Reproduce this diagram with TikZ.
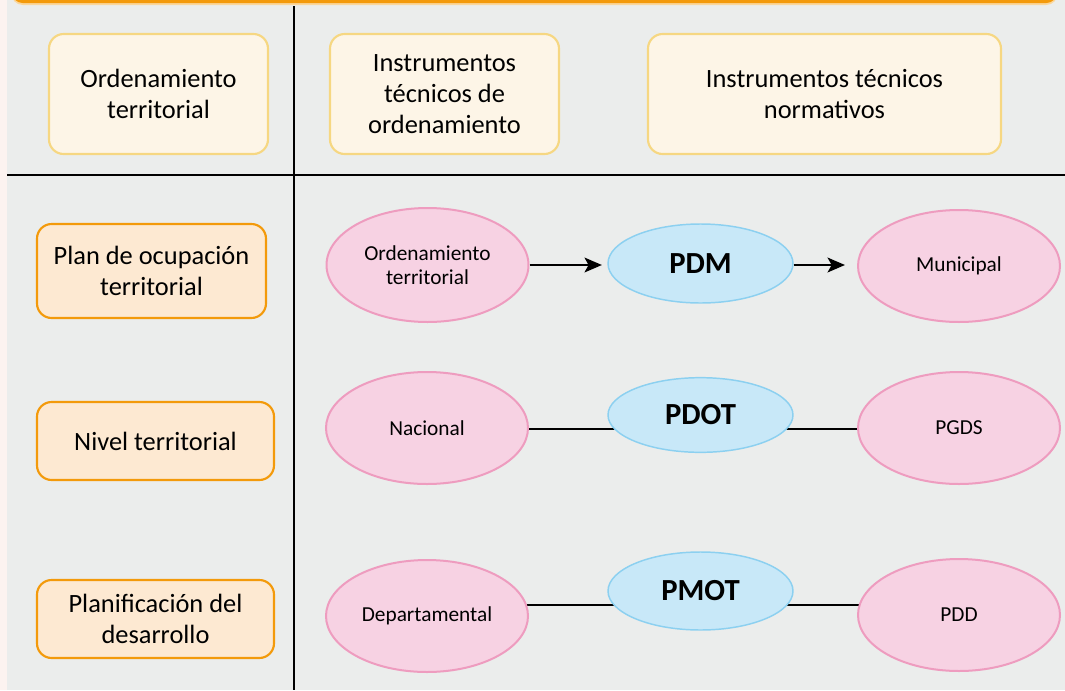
\documentclass[tikz,border=0pt]{standalone}
\usepackage{fontspec}
\setmainfont{Carlito}
\usetikzlibrary{shapes.geometric,arrows.meta,calc}
\pgfdeclarelayer{bg}
\pgfdeclarelayer{edges}
\pgfsetlayers{bg,edges,main}
\definecolor{panelgray}{HTML}{EBEDEC}
\definecolor{stripcol}{HTML}{FCF3F0}
\definecolor{topbar}{HTML}{F39A0B}
\definecolor{hdrfill}{HTML}{FDF5E7}
\definecolor{hdrdraw}{HTML}{F6D782}
\definecolor{rowfill}{HTML}{FDE9D2}
\definecolor{rowdraw}{HTML}{F39A0B}
\definecolor{pinkfill}{HTML}{F7D2E3}
\definecolor{pinkdraw}{HTML}{EE9CBF}
\definecolor{bluefill}{HTML}{C8E8F8}
\definecolor{bluedraw}{HTML}{8CD0F0}
\tikzset{
  hdrbox/.style={draw=hdrdraw, fill=hdrfill, line width=1.6pt, rounded corners=11pt,
    align=center, inner sep=0pt, minimum height=90pt, font=\fontsize{19.8}{23.5}\selectfont},
  rowbox/.style={draw=rowdraw, fill=rowfill, line width=1.6pt, rounded corners=11pt,
    align=center, inner sep=0pt, font=\fontsize{19.8}{23.5}\selectfont},
  pinkell/.style={ellipse, draw=pinkdraw, fill=pinkfill, line width=1.5pt, inner sep=0pt,
    minimum width=151.5pt, minimum height=84pt, align=center,
    font=\fontsize{16}{18}\selectfont},
  blueell/.style={ellipse, draw=bluedraw, fill=bluefill, line width=1.1pt, inner sep=0pt,
    minimum width=138.75pt, minimum height=58.5pt, align=center,
    font=\fontsize{23}{26}\selectfont\bfseries},
  conn/.style={line width=2pt, black},
  arr/.style={conn, -{Stealth[length=13pt, width=11pt, inset=3pt]}},
  rule/.style={line width=1.5pt, black}
}
\begin{document}
\begin{tikzpicture}[x=0.75pt, y=-0.75pt]
\useasboundingbox (0,0) rectangle (1065,690);
\begin{pgfonlayer}{bg}
  \fill[stripcol] (0,0) rectangle (1065,690);
  \fill[panelgray] (7,0) rectangle (1065,690);
  \fill[topbar!40, rounded corners=9pt] (11,-20) rectangle (1058,5);
  \fill[topbar, rounded corners=8pt] (12,-20) rectangle (1057,3);
\end{pgfonlayer}
% grid lines
\coordinate (vtop) at (294,6);
\coordinate (vbot) at (294,690);
\coordinate (hl) at (7,175);
\coordinate (hr) at (1065,175);
\draw[rule] (vtop) -- (vbot);
\draw[rule] (hl) -- (hr);
% header boxes
\node[hdrbox, minimum width=164.25pt] (h1) at (158.5,94) {Ordenamiento\\territorial};
\node[hdrbox, minimum width=171.75pt] (h2) at (444.5,94) {Instrumentos\\técnicos de\\ordenamiento};
\node[hdrbox, minimum width=264.75pt] (h3) at (824.5,94) {Instrumentos técnicos\\normativos};
% row boxes
\node[rowbox, minimum width=171.75pt, minimum height=70.5pt] (r1) at (151.5,271) {Plan de ocupación\\territorial};
\node[rowbox, minimum width=177.75pt, minimum height=58.5pt] (r2) at (155.5,441) {Nivel territorial};
\node[rowbox, minimum width=177.75pt, minimum height=58.5pt] (r3) at (155.5,619) {Planificación del\\desarrollo};
% row 1
\node[pinkell, minimum height=85.5pt] (ot) at (427.5,265) {Ordenamiento\\territorial};
\node[blueell, minimum height=59.25pt] (pdm) at (700.5,263.5) {PDM};
\node[pinkell] (mun) at (959,266) {Municipal};
\draw[arr, shorten >=4pt] (ot.east |- 0,265) -- (pdm.west |- 0,265);
\draw[arr, shorten >=9pt] (pdm.east |- 0,265) -- (mun.west |- 0,265);
% row 2
\node[pinkell] (nac) at (427,428) {Nacional};
\node[blueell, minimum height=56pt] (pdot) at (700.5,415) {PDOT};
\node[pinkell] (pgds) at (959,428) {PGDS};
\coordinate (l2a) at (427,429);
\coordinate (l2b) at (700.5,429);
\coordinate (l2c) at (959,429);
% row 3
\node[pinkell] (dep) at (427,616) {Departamental};
\node[blueell] (pmot) at (700.5,591) {PMOT};
\node[pinkell] (pdd) at (959,615) {PDD};
\coordinate (l3a) at (427,605);
\coordinate (l3b) at (700.5,605);
\coordinate (l3c) at (959,605);
\begin{pgfonlayer}{edges}
  \draw[conn] (l2a) -- (l2b);
  \draw[conn] (l2b) -- (l2c);
  \draw[conn] (l3a) -- (l3b);
  \draw[conn] (l3b) -- (l3c);
\end{pgfonlayer}
\end{tikzpicture}
\end{document}
